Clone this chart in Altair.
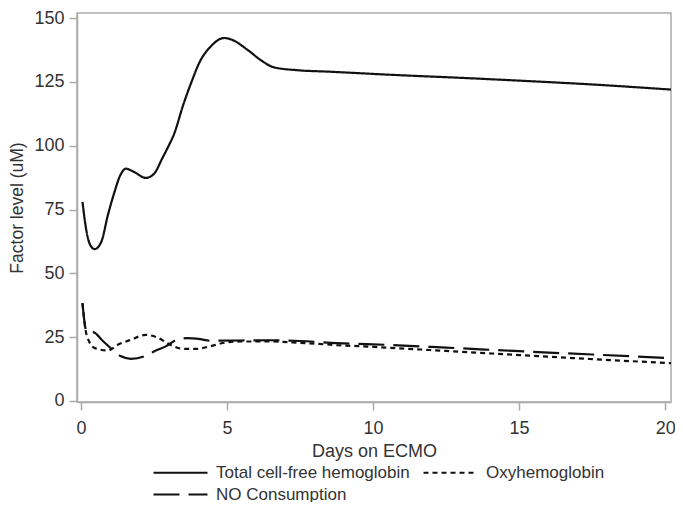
import altair as alt
import pandas as pd

# ---- data ----
series_names = ["Total cell-free hemoglobin", "Oxyhemoglobin", "NO Consumption"]

total_days = [0.05, 0.19, 0.32, 0.47, 0.7, 0.92, 1.15, 1.32, 1.54, 1.82, 2.22, 2.5, 2.78,
              2.95, 3.2, 3.5, 3.8, 4.05, 4.45, 4.9, 5.15, 5.71, 6.16, 6.61, 7.4, 8.52,
              10.78, 13.0, 15.0, 17.5, 20.2]
total_vals = [78, 66.4, 61, 59.5, 62.5, 72.8, 82, 87.8, 91, 89.7, 87.4, 89, 95,
              98.8, 105, 116, 125.5, 132.5, 139, 142.2, 141.6, 137.5, 133.5, 130.7, 129.6, 129,
              127.7, 126.6, 125.5, 124, 122]

oxy_days = [0.05, 0.19, 0.47, 0.92, 1.26, 1.71, 2.22, 2.61, 3.06, 3.51, 3.96, 4.41, 4.86,
            5.43, 6.5, 7.5, 8.75, 10.0, 12.5, 15.0, 17.5, 20.2]
oxy_vals = [38.3, 26, 20.7, 19.8, 22, 24, 25.9, 24.9, 22, 20.4, 20.4, 21.4, 22.7,
            23.3, 23.3, 22.8, 21.9, 21.2, 19.6, 18, 16.4, 14.8]

no_days = [0.05, 0.19, 0.42, 0.75, 1.09, 1.37, 1.71, 2.22, 2.5, 2.9, 3.29, 3.63, 4.08,
           4.41, 5.43, 6.5, 7.5, 8.75, 10.0, 12.5, 15.0, 17.5, 20.2]
no_vals = [38.3, 27.2, 27, 23.5, 20, 17.5, 16.5, 17.7, 19.4, 21.4, 24, 24.6, 24.2,
           23.6, 23.7, 23.8, 23.5, 22.7, 22.2, 20.9, 19.5, 18.2, 16.8]

x_ticks = [0, 5, 10, 15, 20]
y_ticks = [0, 25, 50, 75, 100, 125, 150]

rows = []
for d, v in zip(total_days, total_vals):
    rows.append({"day": d, "value": v, "series": series_names[0]})
for d, v in zip(oxy_days, oxy_vals):
    rows.append({"day": d, "value": v, "series": series_names[1]})
for d, v in zip(no_days, no_vals):
    rows.append({"day": d, "value": v, "series": series_names[2]})
df = pd.DataFrame(rows)

FONT = "Liberation Sans"
GRAY = "#ababab"
TXT = "#333333"

chart = alt.Chart(df).mark_line(
    interpolate="monotone", strokeWidth=2.2, color="#111111", clip=True
).encode(
    x=alt.X("day:Q",
            scale=alt.Scale(domain=[-0.137, 20.2], nice=False, zero=False),
            axis=alt.Axis(title="Days on ECMO", values=x_ticks, grid=False,
                          tickSize=8, labelPadding=9, titlePadding=5,
                          labelFontSize=18, titleFontSize=18)),
    y=alt.Y("value:Q",
            scale=alt.Scale(domain=[-0.4, 152], nice=False, zero=False),
            axis=alt.Axis(title="Factor level (uM)", values=y_ticks, grid=False,
                          tickSize=8, labelPadding=5, titlePadding=7,
                          labelFontSize=18, titleFontSize=17.5)),
    strokeDash=alt.StrokeDash(
        "series:N",
        scale=alt.Scale(domain=series_names, range=[[1, 0], [5, 4], [26, 9]]),
        legend=alt.Legend(title=None, orient="none", legendX=94, legendY=450,
                          columns=2, direction="horizontal", padding=0,
                          symbolType="M-3.375,0L3.375,0", symbolSize=256,
                          symbolStrokeWidth=2.2,
                          symbolStrokeColor="#111111", labelFontSize=17,
                          labelOffset=26, columnPadding=9, rowPadding=4,
                          labelColor=TXT, labelFont=FONT, labelLimit=400),
    ),
).properties(
    width=594,
    height=389,
    autosize=alt.AutoSizeParams(type="none"),
    padding={"left": 69, "top": 5, "right": 4, "bottom": 100},
).configure_view(
    stroke=GRAY, strokeWidth=1.5
).configure_axis(
    domainColor=GRAY, tickColor=GRAY, domainWidth=1.5, tickWidth=1.5,
    labelColor=TXT, titleColor=TXT, labelFont=FONT, titleFont=FONT,
    titleFontWeight="normal"
)

chart.save("out.html", embed_options={"renderer": "svg", "actions": False})
